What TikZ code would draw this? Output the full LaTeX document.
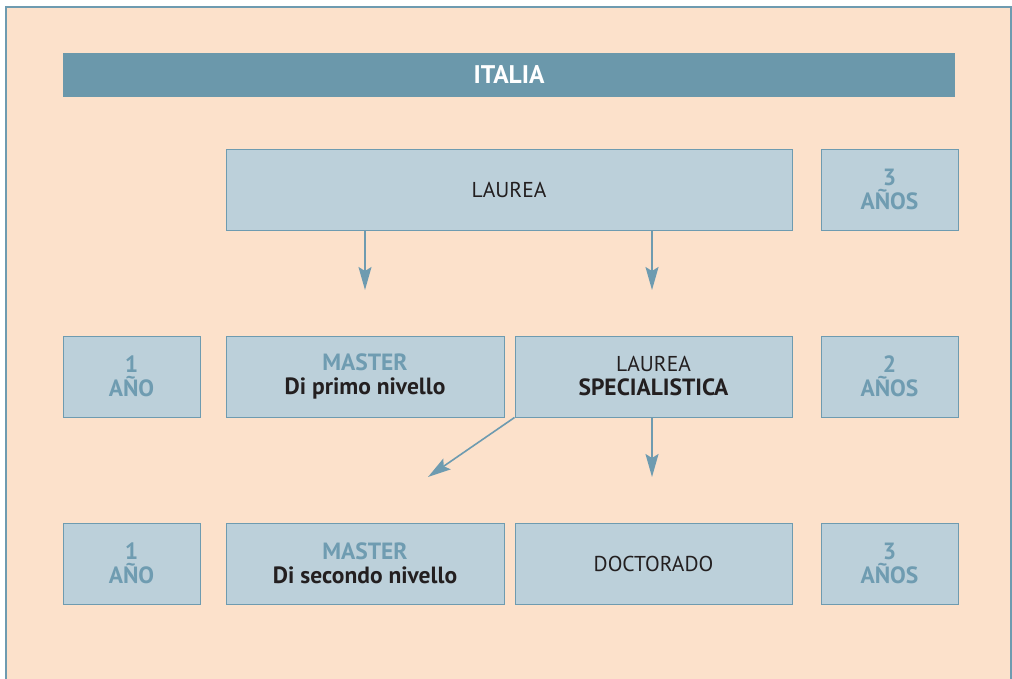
\documentclass[tikz,border=0pt]{standalone}
\usepackage{fontspec}
\setmainfont{PT Sans}
\usepackage{tikz}
\usetikzlibrary{arrows.meta,calc}
\definecolor{peach}{HTML}{FCE1CB}
\definecolor{boxfill}{HTML}{BCD0DA}
\definecolor{boxline}{HTML}{6E9BB0}
\definecolor{barfill}{HTML}{6B98AB}
\definecolor{yeartext}{HTML}{6F9CB1}
\definecolor{darktext}{HTML}{231F20}
\newcommand\itbf{\fontsize{23.5}{24}\selectfont\bfseries}
\tikzset{
  it box/.style={
    rectangle,
    draw=boxline,
    line width=1pt,
    fill=boxfill,
    minimum height=81pt,
    minimum width=278pt,
    align=center,
    text=darktext,
    font=\fontsize{21.5}{24}\selectfont,
    inner sep=0pt,
  },
  it year/.style={
    it box,
    minimum width=137pt,
    text=yeartext,
    font=\itbf,
  },
  it bar/.style={
    rectangle,
    fill=barfill,
    minimum height=44pt,
    minimum width=892pt,
    text=white,
    font=\fontsize{25.5}{24}\selectfont\bfseries,
    inner sep=0pt,
  },
  it arrow/.style={-{Stealth[length=23pt,width=13pt,inset=4pt]}, line width=1.6pt, draw=boxline},
}

\begin{document}
\begin{tikzpicture}[x=1pt,y=-1pt]
  \useasboundingbox (0,0) rectangle (1012,678);
  \fill[white] (0,0) rectangle (1012,678);
  \filldraw[fill=peach,draw=boxline,line width=1.2pt] (6,7) rectangle (1011,700);

  \node[it bar] (title) at (509,75) {ITALIA};

  % row 1
  \node[it box,minimum width=566pt] (laurea) at (509,189.5) {LAUREA};
  \node[it year] (yr3a) at (889.5,189.5) {3\\AÑOS};

  % row 2
  \node[it year] (yr1a) at (131.5,376.5) {1\\AÑO};
  \node[it box] (master1) at (365,376.5) {\textcolor{yeartext}{\itbf MASTER}\\\itbf Di primo nivello};
  \node[it box,minimum width=277pt] (spec) at (653.5,376.5) {LAUREA\\\itbf SPECIALISTICA};
  \node[it year] (yr2) at (889.5,376.5) {2\\AÑOS};

  % row 3
  \node[it year] (yr1b) at (131.5,563.5) {1\\AÑO};
  \node[it box] (master2) at (365,563.5) {\textcolor{yeartext}{\itbf MASTER}\\\itbf Di secondo nivello};
  \node[it box,minimum width=277pt] (doct) at (653.5,563.5) {DOCTORADO};
  \node[it year] (yr3b) at (889.5,563.5) {3\\AÑOS};

  \coordinate (tip1) at (365,290);
  \coordinate (tip2) at (652,290);
  \coordinate (tip3) at (428,477);
  \coordinate (tip4) at (652,477);

  \draw[it arrow] (laurea.south -| tip1) -- (tip1);
  \draw[it arrow] (laurea.south -| tip2) -- (tip2);
  \draw[it arrow] (spec.south west) -- (tip3);
  \draw[it arrow] (spec.south -| tip4) -- (tip4);
\end{tikzpicture}
\end{document}
